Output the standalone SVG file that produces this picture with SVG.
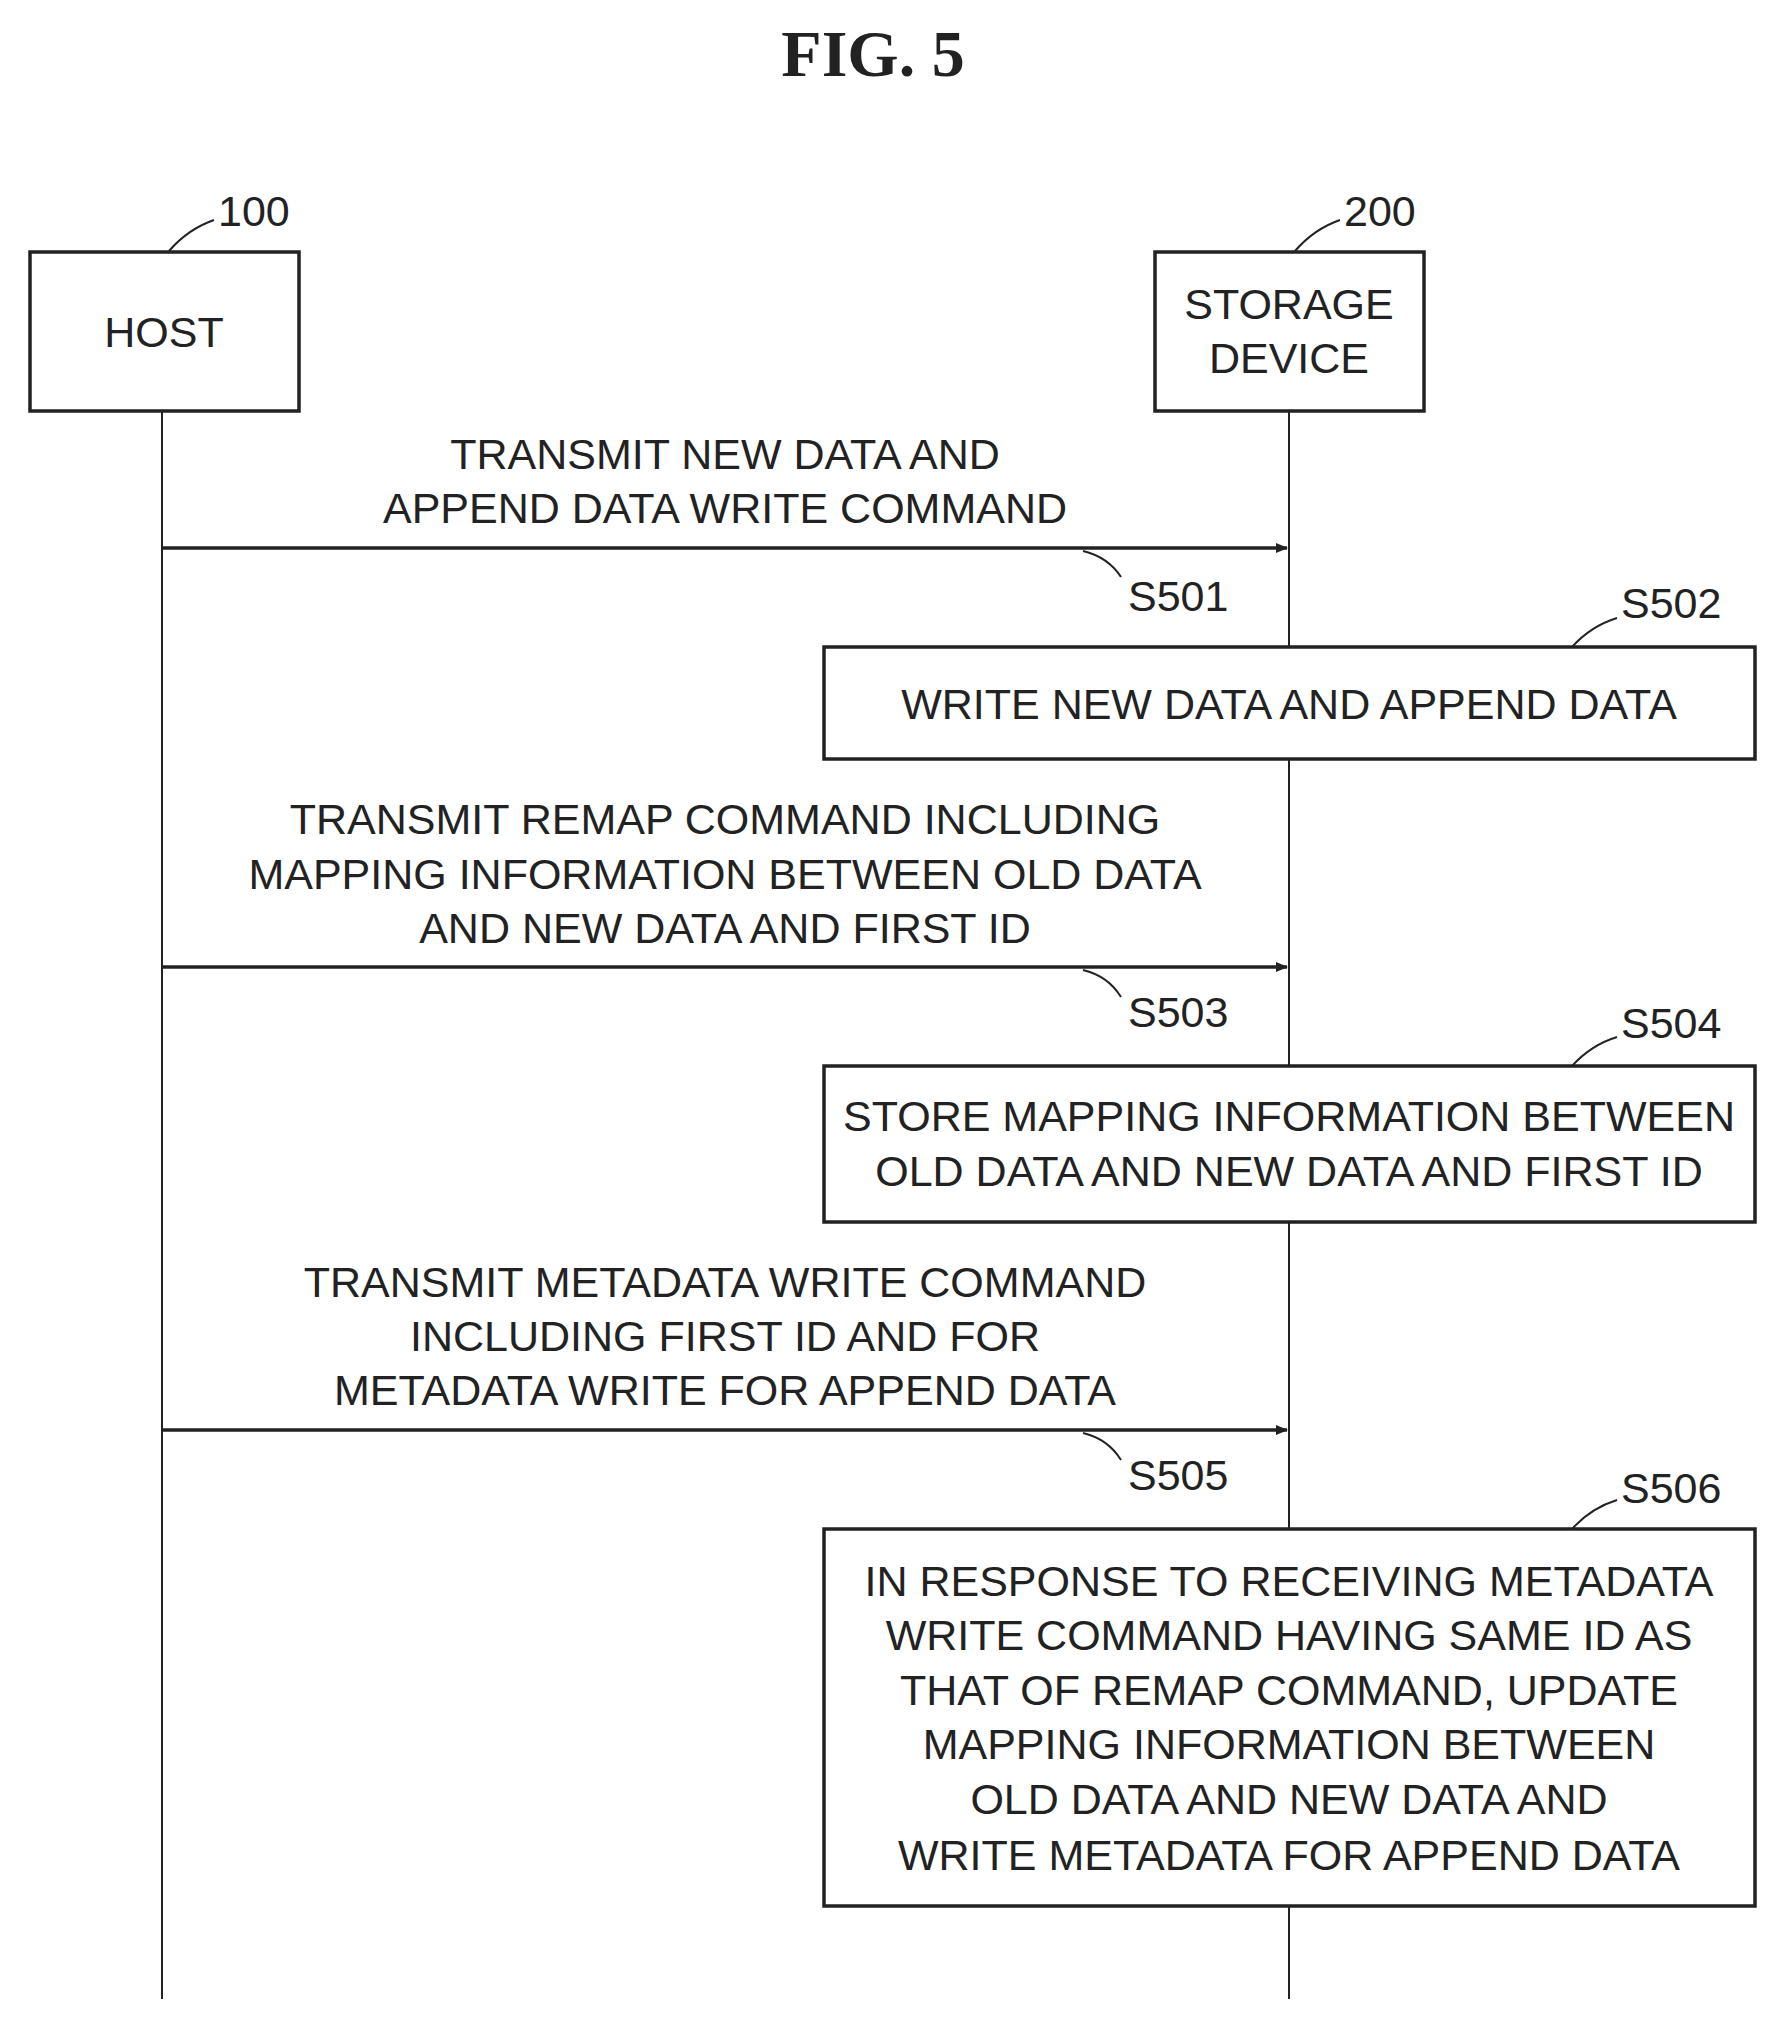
<svg xmlns="http://www.w3.org/2000/svg" width="1781" height="2033" viewBox="0 0 1781 2033">
<defs>
<marker id="ah" markerWidth="12" markerHeight="10" refX="11" refY="5" orient="auto" markerUnits="userSpaceOnUse">
<path d="M0,0 L12,5 L0,10 Z" fill="#222"/>
</marker>
</defs>
<style>
text{font-family:"Liberation Sans",Arial,sans-serif;font-size:43px;fill:#222;text-anchor:middle}
.box{fill:#fff;stroke:#222;stroke-width:3.5}
.life{stroke:#222;stroke-width:2;fill:none}
.msg{stroke:#222;stroke-width:3.5;fill:none}
.lead{stroke:#222;stroke-width:2;fill:none}
.ref{text-anchor:start}
.title{font-family:"Liberation Serif","Times New Roman",serif;font-size:66px;font-weight:bold}
</style>
<rect width="1781" height="2033" fill="#fff"/>
<g transform="translate(8,4)">
<text class="title" x="865" y="72">FIG. 5</text>
<g id="lifelines">
<line class="life" x1="154" y1="407" x2="154" y2="1995"/>
<line class="life" x1="1281" y1="407" x2="1281" y2="1995"/>
</g>
<g id="connectors">
<line class="msg" x1="154" y1="544" x2="1279" y2="544" marker-end="url(#ah)"/>
<line class="msg" x1="154" y1="963" x2="1279" y2="963" marker-end="url(#ah)"/>
<line class="msg" x1="154" y1="1426" x2="1279" y2="1426" marker-end="url(#ah)"/>
<path class="lead" d="M1075,547 Q1100,553 1113,573"/>
<path class="lead" d="M1075,966 Q1100,972 1113,993"/>
<path class="lead" d="M1075,1429 Q1100,1435 1113,1456"/>
</g>
<g id="labels">
<text x="717" y="465">TRANSMIT NEW DATA AND</text>
<text x="717" y="519">APPEND DATA WRITE COMMAND</text>
<text class="ref" x="1120" y="607">S501</text>
<text x="717" y="830">TRANSMIT REMAP COMMAND INCLUDING</text>
<text x="717" y="885">MAPPING INFORMATION BETWEEN OLD DATA</text>
<text x="717" y="939">AND NEW DATA AND FIRST ID</text>
<text class="ref" x="1120" y="1023">S503</text>
<text x="717" y="1293">TRANSMIT METADATA WRITE COMMAND</text>
<text x="717" y="1347">INCLUDING FIRST ID AND FOR</text>
<text x="717" y="1401">METADATA WRITE FOR APPEND DATA</text>
<text class="ref" x="1120" y="1486">S505</text>
</g>
<g id="host">
<rect class="box" x="22" y="248" width="269" height="159"/>
<text x="156" y="343">HOST</text>
<path class="lead" d="M161,247 Q180,225 206,216"/>
<text class="ref" x="210" y="222">100</text>
</g>
<g id="storage">
<rect class="box" x="1147" y="248" width="269" height="159"/>
<text x="1281" y="315">STORAGE</text>
<text x="1281" y="369">DEVICE</text>
<path class="lead" d="M1287,247 Q1306,225 1332,216"/>
<text class="ref" x="1336" y="222">200</text>
</g>
<g id="s502">
<rect class="box" x="816" y="643" width="931" height="112"/>
<text x="1281" y="715">WRITE NEW DATA AND APPEND DATA</text>
<path class="lead" d="M1564,643 Q1583,622 1609,614"/>
<text class="ref" x="1613" y="614">S502</text>
</g>
<g id="s504">
<rect class="box" x="816" y="1062" width="931" height="156"/>
<text x="1281" y="1127">STORE MAPPING INFORMATION BETWEEN</text>
<text x="1281" y="1182">OLD DATA AND NEW DATA AND FIRST ID</text>
<path class="lead" d="M1564,1062 Q1583,1041 1609,1033"/>
<text class="ref" x="1613" y="1034">S504</text>
</g>
<g id="s506">
<rect class="box" x="816" y="1525" width="931" height="377"/>
<text x="1281" y="1592">IN RESPONSE TO RECEIVING METADATA</text>
<text x="1281" y="1646">WRITE COMMAND HAVING SAME ID AS</text>
<text x="1281" y="1701">THAT OF REMAP COMMAND, UPDATE</text>
<text x="1281" y="1755">MAPPING INFORMATION BETWEEN</text>
<text x="1281" y="1810">OLD DATA AND NEW DATA AND</text>
<text x="1281" y="1866">WRITE METADATA FOR APPEND DATA</text>
<path class="lead" d="M1564,1525 Q1583,1504 1609,1496"/>
<text class="ref" x="1613" y="1499">S506</text>
</g>
</g>
</svg>
